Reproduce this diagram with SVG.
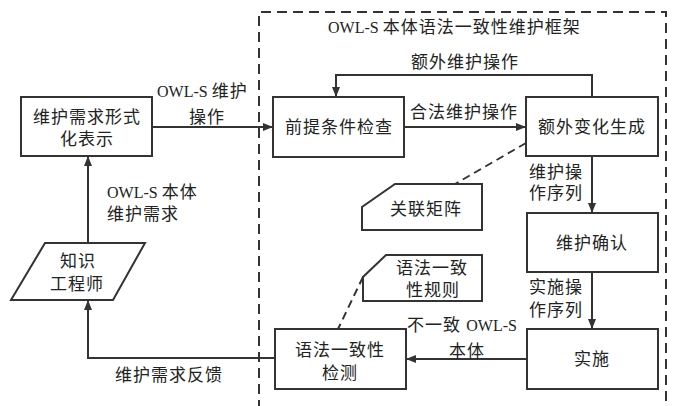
<svg xmlns="http://www.w3.org/2000/svg" width="676" height="406" viewBox="0 0 676 406">
<defs>
<style>
.bg{fill:#ffffff}
.box{fill:#ffffff;stroke:#333;stroke-width:2}
.ln{fill:none;stroke:#333;stroke-width:2}
.dash{fill:none;stroke:#333;stroke-width:2;stroke-dasharray:10 6}
.dl{fill:none;stroke:#333;stroke-width:2;stroke-dasharray:8 5}
text{font-family:"Liberation Serif","Noto Sans CJK SC",serif;font-size:17px;fill:#222;letter-spacing:1px}
.c{text-anchor:middle}
.en{font-size:16px;letter-spacing:0}
</style>
<marker id="ah" viewBox="0 0 10 8" refX="10" refY="4" markerWidth="10" markerHeight="8" markerUnits="userSpaceOnUse" orient="auto">
<path d="M0,0 L10,4 L0,8 Z" fill="#333"/>
</marker>
</defs>
<rect class="bg" x="0" y="0" width="676" height="406"/>
<g id="frame">
<path class="dash" d="M259,410 L259,12 L666,12 L666,410"/>
<text x="328" y="33"><tspan class="en">OWL-S </tspan>本体语法一致性维护框架</text>
</g>
<g id="connectors">
<line class="ln" x1="152" y1="127" x2="273" y2="127" marker-end="url(#ah)"/>
<line class="ln" x1="404" y1="127" x2="526" y2="127" marker-end="url(#ah)"/>
<polyline class="ln" points="592,97 592,75 336,75 336,97" marker-end="url(#ah)"/>
<line class="ln" x1="592" y1="156" x2="592" y2="213" marker-end="url(#ah)"/>
<line class="ln" x1="592" y1="272" x2="592" y2="329" marker-end="url(#ah)"/>
<line class="ln" x1="527" y1="359" x2="406" y2="359" marker-end="url(#ah)"/>
<polyline class="ln" points="275,358 88,358 88,300" marker-end="url(#ah)"/>
<line class="ln" x1="88" y1="243" x2="88" y2="156" marker-end="url(#ah)"/>
<line class="dl" x1="526" y1="143" x2="455" y2="184"/>
<line class="dl" x1="363" y1="277" x2="338" y2="329"/>
<text x="157" y="97"><tspan class="en">OWL-S </tspan>维护</text>
<text class="c" x="207" y="123">操作</text>
<text x="410" y="118">合法维护操作</text>
<text x="411" y="68">额外维护操作</text>
<text x="529" y="178">维护操</text>
<text x="529" y="199">作序列</text>
<text x="529" y="293">实施操</text>
<text x="529" y="316">作序列</text>
<text x="407" y="331">不一致 <tspan class="en">OWL-S</tspan></text>
<text class="c" x="467" y="357">本体</text>
<text x="115" y="381">维护需求反馈</text>
<text x="107" y="198"><tspan class="en">OWL-S </tspan>本体</text>
<text x="107" y="220">维护需求</text>
</g>
<g id="n-formal">
<rect class="box" x="21" y="97" width="131" height="59"/>
<text class="c" x="87" y="123">维护需求形式</text>
<text class="c" x="87" y="145">化表示</text>
</g>
<g id="n-precheck">
<rect class="box" x="273" y="97" width="131" height="60"/>
<text class="c" x="339" y="133">前提条件检查</text>
</g>
<g id="n-extra">
<rect class="box" x="526" y="97" width="132" height="59"/>
<text class="c" x="592" y="133">额外变化生成</text>
</g>
<g id="n-matrix">
<path class="box" d="M395,184 L482,184 L482,230 L362,230 L362,207 Z"/>
<text class="c" x="426" y="215">关联矩阵</text>
</g>
<g id="n-confirm">
<rect class="box" x="527" y="213" width="131" height="59"/>
<text class="c" x="592" y="249">维护确认</text>
</g>
<g id="n-rules">
<path class="box" d="M386,255 L482,255 L482,301 L363,301 L363,277 Z"/>
<text class="c" x="432" y="274">语法一致</text>
<text class="c" x="433" y="296">性规则</text>
</g>
<g id="n-check">
<rect class="box" x="275" y="329" width="131" height="60"/>
<text class="c" x="340" y="356">语法一致性</text>
<text class="c" x="340" y="379">检测</text>
</g>
<g id="n-impl">
<rect class="box" x="527" y="329" width="131" height="60"/>
<text class="c" x="592" y="365">实施</text>
</g>
<g id="n-engineer">
<path class="box" d="M45,243 L145,243 L113,300 L11,300 Z"/>
<text class="c" x="78" y="267">知识</text>
<text class="c" x="77" y="290">工程师</text>
</g>
</svg>
